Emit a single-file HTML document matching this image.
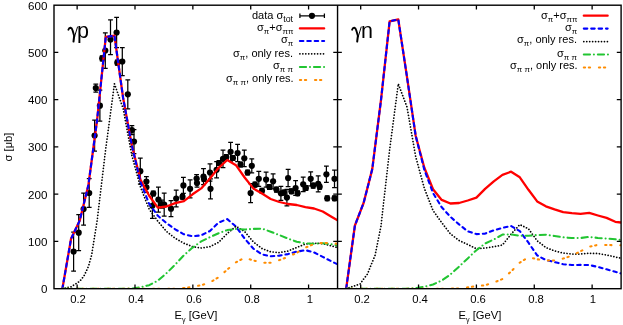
<!DOCTYPE html><html><head><meta charset="utf-8"><title>plot</title><style>
html,body{margin:0;padding:0;background:#fff;}
body{width:623px;height:325px;position:relative;overflow:hidden;font-family:"Liberation Sans",sans-serif;color:#000;}
.t{position:absolute;will-change:transform;white-space:nowrap;font-size:11.6px;line-height:1;}
.r{text-align:right;}
.c{text-align:center;}
.xt{font-size:11.3px;}
.al{font-size:11.2px;}
.lg{font-size:11px;}
sub{font-size:0.8em;vertical-align:baseline;position:relative;top:0.3em;line-height:0;}
sub.p{font-size:0.72em;top:0.36em;}
sub.g{font-size:0.64em;top:0.4em;}
.big{font-size:21.5px;}
</style></head><body>
<svg width="623" height="325" viewBox="0 0 623 325" style="position:absolute;left:0;top:0;will-change:transform">
<rect width="623" height="325" fill="#fff"/>
<defs><clipPath id="cl"><rect x="54.00" y="5.20" width="283.55" height="283.50"/></clipPath><clipPath id="cr"><rect x="337.55" y="5.20" width="283.55" height="283.50"/></clipPath></defs>
<g clip-path="url(#cl)">
<g stroke="#000" stroke-width="1.25" fill="none">
<path d="M73.60 232.00 V271.00 M71.20 232.00 h4.8 M71.20 271.00 h4.8"/>
<path d="M78.70 214.70 V250.70 M76.30 214.70 h4.8 M76.30 250.70 h4.8"/>
<path d="M83.60 193.00 V225.00 M81.20 193.00 h4.8 M81.20 225.00 h4.8"/>
<path d="M89.20 178.70 V207.30 M86.80 178.70 h4.8 M86.80 207.30 h4.8"/>
<path d="M94.60 120.00 V151.20 M92.20 120.00 h4.8 M92.20 151.20 h4.8"/>
<path d="M95.80 84.00 V92.00 M93.40 84.00 h4.8 M93.40 92.00 h4.8"/>
<path d="M99.90 90.20 V121.20 M97.50 90.20 h4.8 M97.50 121.20 h4.8"/>
<path d="M102.20 55.90 V60.90 M99.80 55.90 h4.8 M99.80 60.90 h4.8"/>
<path d="M105.30 32.80 V68.40 M102.90 32.80 h4.8 M102.90 68.40 h4.8"/>
<path d="M110.50 19.80 V54.50 M108.10 19.80 h4.8 M108.10 54.50 h4.8"/>
<path d="M116.60 17.30 V47.70 M114.20 17.30 h4.8 M114.20 47.70 h4.8"/>
<path d="M117.30 60.20 V65.20 M114.90 60.20 h4.8 M114.90 65.20 h4.8"/>
<path d="M122.30 47.50 V75.50 M119.90 47.50 h4.8 M119.90 75.50 h4.8"/>
<path d="M127.80 79.80 V108.80 M125.40 79.80 h4.8 M125.40 108.80 h4.8"/>
<path d="M131.90 125.60 V134.60 M129.50 125.60 h4.8 M129.50 134.60 h4.8"/>
<path d="M134.00 129.50 V153.50 M131.60 129.50 h4.8 M131.60 153.50 h4.8"/>
<path d="M140.30 158.20 V184.20 M137.90 158.20 h4.8 M137.90 184.20 h4.8"/>
<path d="M146.40 176.50 V186.50 M144.00 176.50 h4.8 M144.00 186.50 h4.8"/>
<path d="M146.40 182.30 V192.30 M144.00 182.30 h4.8 M144.00 192.30 h4.8"/>
<path d="M153.30 191.10 V195.90 M150.90 191.10 h4.8 M150.90 195.90 h4.8"/>
<path d="M152.40 193.80 V218.30 M150.00 193.80 h4.8 M150.00 218.30 h4.8"/>
<path d="M158.40 187.00 V212.00 M156.00 187.00 h4.8 M156.00 212.00 h4.8"/>
<path d="M161.60 200.00 V208.00 M159.20 200.00 h4.8 M159.20 208.00 h4.8"/>
<path d="M164.20 193.00 V216.00 M161.80 193.00 h4.8 M161.80 216.00 h4.8"/>
<path d="M171.00 200.70 V216.70 M168.60 200.70 h4.8 M168.60 216.70 h4.8"/>
<path d="M176.20 190.20 V206.80 M173.80 190.20 h4.8 M173.80 206.80 h4.8"/>
<path d="M182.50 194.40 V199.20 M180.10 194.40 h4.8 M180.10 199.20 h4.8"/>
<path d="M183.40 177.40 V193.40 M181.00 177.40 h4.8 M181.00 193.40 h4.8"/>
<path d="M190.10 179.80 V197.80 M187.70 179.80 h4.8 M187.70 197.80 h4.8"/>
<path d="M196.60 174.50 V182.50 M194.20 174.50 h4.8 M194.20 182.50 h4.8"/>
<path d="M197.00 179.00 V187.00 M194.60 179.00 h4.8 M194.60 187.00 h4.8"/>
<path d="M203.50 168.50 V184.50 M201.10 168.50 h4.8 M201.10 184.50 h4.8"/>
<path d="M204.00 176.60 V181.40 M201.60 176.60 h4.8 M201.60 181.40 h4.8"/>
<path d="M210.00 163.80 V181.20 M207.60 163.80 h4.8 M207.60 181.20 h4.8"/>
<path d="M210.50 178.80 V198.80 M208.10 178.80 h4.8 M208.10 198.80 h4.8"/>
<path d="M216.60 161.70 V177.90 M214.20 161.70 h4.8 M214.20 177.90 h4.8"/>
<path d="M219.00 160.60 V165.40 M216.60 160.60 h4.8 M216.60 165.40 h4.8"/>
<path d="M223.00 150.00 V167.60 M220.60 150.00 h4.8 M220.60 167.60 h4.8"/>
<path d="M226.30 154.60 V159.40 M223.90 154.60 h4.8 M223.90 159.40 h4.8"/>
<path d="M230.60 142.40 V161.20 M228.20 142.40 h4.8 M228.20 161.20 h4.8"/>
<path d="M233.00 155.60 V160.40 M230.60 155.60 h4.8 M230.60 160.40 h4.8"/>
<path d="M237.60 144.30 V161.70 M235.20 144.30 h4.8 M235.20 161.70 h4.8"/>
<path d="M240.60 162.10 V166.90 M238.20 162.10 h4.8 M238.20 166.90 h4.8"/>
<path d="M244.30 150.10 V166.50 M241.90 150.10 h4.8 M241.90 166.50 h4.8"/>
<path d="M247.60 170.10 V174.90 M245.20 170.10 h4.8 M245.20 174.90 h4.8"/>
<path d="M251.80 158.80 V172.80 M249.40 158.80 h4.8 M249.40 172.80 h4.8"/>
<path d="M250.60 183.70 V202.50 M248.20 183.70 h4.8 M248.20 202.50 h4.8"/>
<path d="M255.00 182.20 V187.00 M252.60 182.20 h4.8 M252.60 187.00 h4.8"/>
<path d="M258.80 171.30 V186.30 M256.40 171.30 h4.8 M256.40 186.30 h4.8"/>
<path d="M262.00 188.40 V193.20 M259.60 188.40 h4.8 M259.60 193.20 h4.8"/>
<path d="M266.10 172.00 V187.20 M263.70 172.00 h4.8 M263.70 187.20 h4.8"/>
<path d="M269.40 184.60 V189.40 M267.00 184.60 h4.8 M267.00 189.40 h4.8"/>
<path d="M273.10 173.80 V188.80 M270.70 173.80 h4.8 M270.70 188.80 h4.8"/>
<path d="M276.40 187.20 V192.00 M274.00 187.20 h4.8 M274.00 192.00 h4.8"/>
<path d="M280.90 186.30 V200.30 M278.50 186.30 h4.8 M278.50 200.30 h4.8"/>
<path d="M283.90 190.20 V195.00 M281.50 190.20 h4.8 M281.50 195.00 h4.8"/>
<path d="M286.90 189.40 V205.80 M284.50 189.40 h4.8 M284.50 205.80 h4.8"/>
<path d="M288.10 169.40 V186.60 M285.70 169.40 h4.8 M285.70 186.60 h4.8"/>
<path d="M291.40 188.90 V193.70 M289.00 188.90 h4.8 M289.00 193.70 h4.8"/>
<path d="M295.60 180.60 V195.40 M293.20 180.60 h4.8 M293.20 195.40 h4.8"/>
<path d="M297.60 190.90 V195.70 M295.20 190.90 h4.8 M295.20 195.70 h4.8"/>
<path d="M303.20 177.00 V191.60 M300.80 177.00 h4.8 M300.80 191.60 h4.8"/>
<path d="M305.90 185.60 V190.40 M303.50 185.60 h4.8 M303.50 190.40 h4.8"/>
<path d="M310.70 171.80 V185.80 M308.30 171.80 h4.8 M308.30 185.80 h4.8"/>
<path d="M313.20 183.20 V188.00 M310.80 183.20 h4.8 M310.80 188.00 h4.8"/>
<path d="M318.20 175.80 V191.80 M315.80 175.80 h4.8 M315.80 191.80 h4.8"/>
<path d="M319.70 184.40 V189.20 M317.30 184.40 h4.8 M317.30 189.20 h4.8"/>
<path d="M326.40 166.20 V182.40 M324.00 166.20 h4.8 M324.00 182.40 h4.8"/>
<path d="M327.20 195.90 V200.70 M324.80 195.90 h4.8 M324.80 200.70 h4.8"/>
<path d="M334.50 170.00 V187.60 M332.10 170.00 h4.8 M332.10 187.60 h4.8"/>
<path d="M334.50 195.90 V200.70 M332.10 195.90 h4.8 M332.10 200.70 h4.8"/>
</g>
<g fill="#000">
<circle cx="73.60" cy="251.50" r="3.1"/>
<circle cx="78.70" cy="232.70" r="3.1"/>
<circle cx="83.60" cy="209.00" r="3.1"/>
<circle cx="89.20" cy="193.00" r="3.1"/>
<circle cx="94.60" cy="135.60" r="3.1"/>
<circle cx="95.80" cy="88.00" r="3.1"/>
<circle cx="99.90" cy="105.70" r="3.1"/>
<circle cx="102.20" cy="58.40" r="3.1"/>
<circle cx="105.30" cy="50.60" r="3.1"/>
<circle cx="110.50" cy="39.50" r="3.1"/>
<circle cx="116.60" cy="32.50" r="3.1"/>
<circle cx="117.30" cy="62.70" r="3.1"/>
<circle cx="122.30" cy="61.50" r="3.1"/>
<circle cx="127.80" cy="94.30" r="3.1"/>
<circle cx="131.90" cy="130.10" r="3.1"/>
<circle cx="134.00" cy="141.50" r="3.1"/>
<circle cx="140.30" cy="171.20" r="3.1"/>
<circle cx="146.40" cy="181.50" r="3.1"/>
<circle cx="146.40" cy="187.30" r="3.1"/>
<circle cx="153.30" cy="193.50" r="3.1"/>
<circle cx="152.40" cy="205.80" r="3.1"/>
<circle cx="158.40" cy="199.50" r="3.1"/>
<circle cx="161.60" cy="204.00" r="3.1"/>
<circle cx="164.20" cy="204.50" r="3.1"/>
<circle cx="171.00" cy="208.70" r="3.1"/>
<circle cx="176.20" cy="198.50" r="3.1"/>
<circle cx="182.50" cy="196.80" r="3.1"/>
<circle cx="183.40" cy="185.40" r="3.1"/>
<circle cx="190.10" cy="188.80" r="3.1"/>
<circle cx="196.60" cy="178.50" r="3.1"/>
<circle cx="197.00" cy="183.00" r="3.1"/>
<circle cx="203.50" cy="176.50" r="3.1"/>
<circle cx="204.00" cy="179.00" r="3.1"/>
<circle cx="210.00" cy="172.50" r="3.1"/>
<circle cx="210.50" cy="188.80" r="3.1"/>
<circle cx="216.60" cy="169.80" r="3.1"/>
<circle cx="219.00" cy="163.00" r="3.1"/>
<circle cx="223.00" cy="158.80" r="3.1"/>
<circle cx="226.30" cy="157.00" r="3.1"/>
<circle cx="230.60" cy="151.80" r="3.1"/>
<circle cx="233.00" cy="158.00" r="3.1"/>
<circle cx="237.60" cy="153.00" r="3.1"/>
<circle cx="240.60" cy="164.50" r="3.1"/>
<circle cx="244.30" cy="158.30" r="3.1"/>
<circle cx="247.60" cy="172.50" r="3.1"/>
<circle cx="251.80" cy="165.80" r="3.1"/>
<circle cx="250.60" cy="193.10" r="3.1"/>
<circle cx="255.00" cy="184.60" r="3.1"/>
<circle cx="258.80" cy="178.80" r="3.1"/>
<circle cx="262.00" cy="190.80" r="3.1"/>
<circle cx="266.10" cy="179.60" r="3.1"/>
<circle cx="269.40" cy="187.00" r="3.1"/>
<circle cx="273.10" cy="181.30" r="3.1"/>
<circle cx="276.40" cy="189.60" r="3.1"/>
<circle cx="280.90" cy="193.30" r="3.1"/>
<circle cx="283.90" cy="192.60" r="3.1"/>
<circle cx="286.90" cy="197.60" r="3.1"/>
<circle cx="288.10" cy="178.00" r="3.1"/>
<circle cx="291.40" cy="191.30" r="3.1"/>
<circle cx="295.60" cy="188.00" r="3.1"/>
<circle cx="297.60" cy="193.30" r="3.1"/>
<circle cx="303.20" cy="184.30" r="3.1"/>
<circle cx="305.90" cy="188.00" r="3.1"/>
<circle cx="310.70" cy="178.80" r="3.1"/>
<circle cx="313.20" cy="185.60" r="3.1"/>
<circle cx="318.20" cy="183.80" r="3.1"/>
<circle cx="319.70" cy="186.80" r="3.1"/>
<circle cx="326.40" cy="174.30" r="3.1"/>
<circle cx="327.20" cy="198.30" r="3.1"/>
<circle cx="334.50" cy="178.80" r="3.1"/>
<circle cx="334.50" cy="198.30" r="3.1"/>
</g>
<path d="M62.38 288.70 L71.06 238.80 L79.74 220.50 L88.42 185.00 L97.10 120.00 L105.77 37.00 L114.45 35.70 L123.13 98.00 L131.81 145.30 L140.49 179.80 L149.17 195.70 L157.85 207.60 L166.53 206.50 L175.21 203.10 L183.88 201.20 L192.56 194.30 L201.24 188.40 L209.92 178.40 L218.60 167.80 L227.28 160.00 L235.96 165.20 L244.64 177.50 L253.32 188.40 L262.00 193.60 L270.68 199.00 L279.35 202.00 L288.03 204.00 L296.71 205.00 L305.39 207.10 L314.07 208.50 L322.75 211.50 L331.43 216.70 L337.51 220.30" fill="none" stroke="#ff0000" stroke-width="2.3" stroke-linejoin="round" stroke-linecap="round"/>
<path d="M62.38 288.70 L71.06 238.80 L79.74 220.50 L88.42 185.00 L97.10 120.00 L105.77 37.00 L114.45 35.70 L123.13 98.00 L131.81 145.30 L140.49 182.30 L149.17 203.80 L157.85 215.80 L166.53 223.20 L175.21 229.30 L183.88 234.30 L192.56 236.30 L201.24 235.30 L209.92 231.00 L218.60 222.60 L227.28 219.10 L235.96 226.50 L244.64 238.60 L253.32 248.60 L262.00 254.40 L270.68 256.20 L279.35 255.60 L288.03 254.10 L296.71 251.60 L305.39 250.20 L314.07 252.40 L322.75 256.90 L331.43 261.30 L337.51 264.30" fill="none" stroke="#0000ff" stroke-width="2.1" stroke-dasharray="3.5 3.9" stroke-linejoin="round" stroke-linecap="round"/>
<path d="M62.38 288.70 L71.06 286.80 L79.74 281.30 L84.00 275.90 L88.42 266.50 L91.60 255.20 L97.10 221.00 L105.77 148.50 L114.45 83.80 L123.13 108.50 L131.81 155.20 L140.49 187.10 L149.17 209.20 L157.85 221.20 L166.53 231.50 L175.21 238.30 L183.88 243.20 L192.56 246.60 L201.24 248.00 L209.92 246.60 L218.60 242.30 L227.28 233.50 L235.96 226.30 L244.64 231.50 L253.32 241.90 L262.00 248.50 L270.68 251.80 L279.35 252.60 L288.03 251.00 L296.71 247.50 L305.39 244.00 L314.07 243.20 L322.75 243.70 L331.43 245.80 L337.51 247.60" fill="none" stroke="#000" stroke-width="1.75" stroke-dasharray="0.01 2.94" stroke-linejoin="round" stroke-linecap="round"/>
<path d="M62.38 288.70 L71.06 288.70 L79.74 288.70 L88.42 288.70 L97.10 288.70 L105.77 288.70 L114.45 288.70 L123.13 288.70 L131.81 288.60 L140.49 287.30 L149.17 285.20 L157.85 280.60 L166.53 273.20 L175.21 264.60 L183.88 255.30 L192.56 247.60 L201.24 241.40 L209.92 237.20 L218.60 233.20 L227.28 230.10 L235.96 228.90 L244.64 229.50 L253.32 228.90 L262.00 228.60 L270.68 231.70 L279.35 235.10 L288.03 238.60 L296.71 241.70 L305.39 243.50 L314.07 243.80 L322.75 243.20 L331.43 244.30 L337.51 245.50" fill="none" stroke="#22c532" stroke-width="2.05" stroke-dasharray="6.2 3.9 0.01 3.94" stroke-linejoin="round" stroke-linecap="round"/>
<path d="M62.38 288.70 L71.06 288.70 L79.74 288.70 L88.42 288.70 L97.10 288.70 L105.77 288.70 L114.45 288.70 L123.13 288.70 L131.81 288.70 L140.49 288.70 L149.17 288.70 L157.85 288.70 L166.53 288.70 L175.21 288.70 L183.88 288.00 L192.56 286.80 L201.24 285.20 L209.92 282.50 L218.60 277.20 L227.28 269.60 L235.96 262.30 L244.64 257.80 L253.32 260.40 L262.00 262.70 L270.68 262.70 L279.35 260.10 L288.03 256.90 L296.71 252.80 L305.39 247.60 L314.07 244.10 L322.75 242.80 L331.43 243.20 L337.51 243.80" fill="none" stroke="#ff8c00" stroke-width="2.05" stroke-dasharray="1.3 3.7 1.3 8.8" stroke-linejoin="round" stroke-linecap="round"/>
</g>
<g clip-path="url(#cr)">
<path d="M346.23 288.30 L354.91 225.50 L363.59 203.00 L372.27 169.10 L380.95 100.40 L389.62 21.30 L398.30 19.50 L406.98 76.90 L415.66 135.70 L424.34 167.80 L433.02 189.30 L441.70 199.90 L450.38 203.50 L459.06 203.00 L467.74 200.50 L476.41 197.60 L485.09 188.90 L493.77 181.30 L502.45 174.80 L511.13 171.70 L519.81 177.30 L528.49 189.80 L537.17 201.40 L545.85 206.30 L554.53 209.40 L563.20 212.10 L571.88 213.10 L580.56 213.80 L589.24 212.90 L597.92 215.50 L606.60 217.90 L615.28 221.80 L621.06 222.50" fill="none" stroke="#ff0000" stroke-width="2.3" stroke-linejoin="round" stroke-linecap="round"/>
<path d="M346.23 288.30 L354.91 225.50 L363.59 203.00 L372.27 169.10 L380.95 100.40 L389.62 21.30 L398.30 19.50 L406.98 76.90 L415.66 135.70 L424.34 169.80 L433.02 193.00 L441.70 207.30 L450.38 216.80 L459.06 224.40 L467.74 231.30 L476.41 234.10 L485.09 233.60 L493.77 230.30 L502.45 227.90 L511.13 226.00 L519.81 231.20 L528.49 242.70 L537.17 255.40 L545.85 260.00 L554.53 262.10 L563.20 264.20 L571.88 265.00 L580.56 264.90 L589.24 265.10 L597.92 266.90 L606.60 269.30 L615.28 271.80 L621.06 273.50" fill="none" stroke="#0000ff" stroke-width="2.1" stroke-dasharray="3.5 3.9" stroke-linejoin="round" stroke-linecap="round"/>
<path d="M346.23 288.70 L354.91 285.70 L360.00 284.10 L363.59 279.10 L367.50 274.00 L372.27 262.00 L375.10 255.20 L380.95 226.20 L389.62 149.80 L398.30 83.80 L406.98 107.00 L415.66 156.50 L424.34 188.30 L433.02 210.50 L441.70 222.60 L450.38 233.80 L459.06 240.50 L467.74 244.50 L476.41 248.70 L485.09 248.00 L493.77 246.80 L502.45 245.00 L511.13 234.10 L519.81 224.60 L528.49 228.80 L537.17 240.80 L545.85 247.50 L554.53 250.90 L563.20 253.10 L571.88 254.00 L580.56 254.00 L589.24 253.30 L597.92 253.50 L606.60 255.00 L615.28 257.00 L621.06 258.30" fill="none" stroke="#000" stroke-width="1.75" stroke-dasharray="0.01 2.94" stroke-linejoin="round" stroke-linecap="round"/>
<path d="M346.23 288.70 L354.91 288.70 L363.59 288.70 L372.27 288.70 L380.95 288.70 L389.62 288.70 L398.30 288.70 L406.98 288.70 L415.66 288.10 L424.34 286.80 L433.02 284.50 L441.70 280.50 L450.38 274.50 L459.06 266.60 L467.74 258.40 L476.41 250.20 L485.09 243.50 L493.77 239.60 L502.45 234.60 L511.13 234.50 L519.81 235.70 L528.49 235.70 L537.17 235.00 L545.85 234.70 L554.53 236.00 L563.20 237.30 L571.88 238.00 L580.56 238.00 L589.24 236.90 L597.92 237.90 L606.60 238.50 L615.28 239.30 L621.06 240.00" fill="none" stroke="#22c532" stroke-width="2.05" stroke-dasharray="6.2 3.9 0.01 3.94" stroke-linejoin="round" stroke-linecap="round"/>
<path d="M346.23 288.70 L354.91 288.70 L363.59 288.70 L372.27 288.70 L380.95 288.70 L389.62 288.70 L398.30 288.70 L406.98 288.70 L415.66 288.70 L424.34 288.70 L433.02 288.70 L441.70 288.70 L450.38 288.70 L459.06 288.40 L467.74 287.30 L476.41 286.20 L485.09 285.20 L493.77 282.60 L502.45 279.00 L511.13 271.50 L519.81 262.60 L528.49 257.10 L537.17 259.30 L545.85 260.50 L554.53 260.60 L563.20 258.60 L571.88 255.60 L580.56 251.30 L589.24 246.80 L597.92 244.80 L606.60 245.00 L615.28 245.20 L621.06 245.30" fill="none" stroke="#ff8c00" stroke-width="2.05" stroke-dasharray="1.3 3.7 1.3 8.8" stroke-linejoin="round" stroke-linecap="round"/>
</g>
<g stroke="#000" stroke-width="1.40" fill="none">
<rect x="54.00" y="5.20" width="567.10" height="283.50"/>
<path d="M337.55 5.20 V288.70"/>
</g>
<g stroke="#000" stroke-width="1.3" fill="none">
<path d="M77.14 288.70 v-4.3 M77.14 5.20 v4.3 M135.00 288.70 v-4.3 M135.00 5.20 v4.3 M192.86 288.70 v-4.3 M192.86 5.20 v4.3 M250.72 288.70 v-4.3 M250.72 5.20 v4.3 M308.58 288.70 v-4.3 M308.58 5.20 v4.3 M54.00 241.45 h4.3 M337.55 241.45 h-4.3 M54.00 194.20 h4.3 M337.55 194.20 h-4.3 M54.00 146.95 h4.3 M337.55 146.95 h-4.3 M54.00 99.70 h4.3 M337.55 99.70 h-4.3 M54.00 52.45 h4.3 M337.55 52.45 h-4.3"/>
<path d="M360.69 288.70 v-4.3 M360.69 5.20 v4.3 M418.55 288.70 v-4.3 M418.55 5.20 v4.3 M476.41 288.70 v-4.3 M476.41 5.20 v4.3 M534.27 288.70 v-4.3 M534.27 5.20 v4.3 M592.13 288.70 v-4.3 M592.13 5.20 v4.3 M337.55 241.45 h4.3 M621.10 241.45 h-4.3 M337.55 194.20 h4.3 M621.10 194.20 h-4.3 M337.55 146.95 h4.3 M621.10 146.95 h-4.3 M337.55 99.70 h4.3 M621.10 99.70 h-4.3 M337.55 52.45 h4.3 M621.10 52.45 h-4.3"/>
</g>
<path d="M299.90 15.80 H324.40 M299.90 13.50 v4.6 M324.40 13.50 v4.6" stroke="#000" stroke-width="1.25" fill="none"/>
<circle cx="311.95" cy="15.80" r="3.1" fill="#000"/>
<path d="M299.90 28.40 H324.15" fill="none" stroke="#ff0000" stroke-width="2.3" stroke-linejoin="round" stroke-linecap="round"/>
<path d="M299.90 41.00 H324.15" fill="none" stroke="#0000ff" stroke-width="2.1" stroke-dasharray="3.5 3.9" stroke-linejoin="round" stroke-linecap="round"/>
<path d="M299.90 53.80 H324.15" fill="none" stroke="#000" stroke-width="1.75" stroke-dasharray="0.01 2.94" stroke-linejoin="round" stroke-linecap="round"/>
<path d="M299.90 67.00 H325.05" fill="none" stroke="#22c532" stroke-width="2.05" stroke-dasharray="6.2 3.9 0.01 3.94" stroke-linejoin="round" stroke-linecap="round"/>
<path d="M299.90 79.90 H324.15" fill="none" stroke="#ff8c00" stroke-width="2.05" stroke-dasharray="1.3 3.7 1.3 8.8" stroke-linejoin="round" stroke-linecap="round"/>
<path d="M583.80 15.70 H607.65" fill="none" stroke="#ff0000" stroke-width="2.3" stroke-linejoin="round" stroke-linecap="round"/>
<path d="M583.80 28.60 H607.65" fill="none" stroke="#0000ff" stroke-width="2.1" stroke-dasharray="3.5 3.9" stroke-linejoin="round" stroke-linecap="round"/>
<path d="M583.80 41.50 H607.65" fill="none" stroke="#000" stroke-width="1.75" stroke-dasharray="0.01 2.94" stroke-linejoin="round" stroke-linecap="round"/>
<path d="M583.80 54.40 H608.55" fill="none" stroke="#22c532" stroke-width="2.05" stroke-dasharray="6.2 3.9 0.01 3.94" stroke-linejoin="round" stroke-linecap="round"/>
<path d="M583.80 67.40 H607.65" fill="none" stroke="#ff8c00" stroke-width="2.05" stroke-dasharray="1.3 3.7 1.3 8.8" stroke-linejoin="round" stroke-linecap="round"/>
<text x="0" y="0" transform="translate(11.8 147) rotate(-90)" text-anchor="middle" font-family="Liberation Sans, sans-serif" font-size="11.2" fill="#000">&#963; [&#956;b]</text>
<g transform="translate(0.00,0)" fill="none" stroke="#000" stroke-linecap="round" stroke-linejoin="round">
<path d="M68.4 29.7 Q69.1 27.5 70.6 27.7 Q71.9 28.0 72.6 30.4 L74.3 36.3" stroke-width="1.9"/>
<path d="M77.5 27.0 L74.5 36.8" stroke-width="1.0"/>
<path d="M74.1 36.6 L73.5 41.6" stroke-width="2.0"/>
</g>
<g transform="translate(283.70,0)" fill="none" stroke="#000" stroke-linecap="round" stroke-linejoin="round">
<path d="M68.4 29.7 Q69.1 27.5 70.6 27.7 Q71.9 28.0 72.6 30.4 L74.3 36.3" stroke-width="1.9"/>
<path d="M77.5 27.0 L74.5 36.8" stroke-width="1.0"/>
<path d="M74.1 36.6 L73.5 41.6" stroke-width="2.0"/>
</g>
</svg>
<div class="t r" style="right:575.8px;top:283px">0</div>
<div class="t r" style="right:575.8px;top:236px">100</div>
<div class="t r" style="right:575.8px;top:189px">200</div>
<div class="t r" style="right:575.8px;top:141px">300</div>
<div class="t r" style="right:575.8px;top:94px">400</div>
<div class="t r" style="right:575.8px;top:47px">500</div>
<div class="t r" style="right:575.8px;top:0px">600</div>
<div class="t c xt" style="left:58.4px;width:40px;top:294px">0.2</div>
<div class="t c xt" style="left:116.3px;width:40px;top:294px">0.4</div>
<div class="t c xt" style="left:174.2px;width:40px;top:294px">0.6</div>
<div class="t c xt" style="left:232.0px;width:40px;top:294px">0.8</div>
<div class="t c xt" style="left:289.9px;width:40px;top:294px">1</div>
<div class="t c al" style="left:156.4px;width:80px;top:310px">E<sub class="g">&gamma;</sub> [GeV]</div>
<div class="t c xt" style="left:342.0px;width:40px;top:294px">0.2</div>
<div class="t c xt" style="left:399.9px;width:40px;top:294px">0.4</div>
<div class="t c xt" style="left:457.7px;width:40px;top:294px">0.6</div>
<div class="t c xt" style="left:515.6px;width:40px;top:294px">0.8</div>
<div class="t c xt" style="left:573.4px;width:40px;top:294px">1</div>
<div class="t c al" style="left:439.9px;width:80px;top:310px">E<sub class="g">&gamma;</sub> [GeV]</div>
<div class="t big" style="left:77.1px;top:21px">p</div>
<div class="t big" style="left:360.9px;top:21px">n</div>
<div class="t r lg" style="right:329.8px;top:10px">data &sigma;<sub>tot</sub></div>
<div class="t r lg" style="right:329.8px;top:22px">&sigma;<sub class="p">&pi;</sub>+&sigma;<sub class="p">&pi;&pi;</sub></div>
<div class="t r lg" style="right:329.8px;top:34px">&sigma;<sub class="p">&pi;</sub></div>
<div class="t r lg" style="right:329.8px;top:48px">&sigma;<sub class="p">&pi;</sub>, only res.</div>
<div class="t r lg" style="right:329.8px;top:60px">&sigma;<sub class="p">&pi; &pi;</sub></div>
<div class="t r lg" style="right:329.8px;top:73px">&sigma;<sub class="p">&pi; &pi;</sub>, only res.</div>
<div class="t r lg" style="right:45.7px;top:10px">&sigma;<sub class="p">&pi;</sub>+&sigma;<sub class="p">&pi;&pi;</sub></div>
<div class="t r lg" style="right:45.7px;top:22px">&sigma;<sub class="p">&pi;</sub></div>
<div class="t r lg" style="right:45.7px;top:34px">&sigma;<sub class="p">&pi;</sub>, only res.</div>
<div class="t r lg" style="right:45.7px;top:48px">&sigma;<sub class="p">&pi; &pi;</sub></div>
<div class="t r lg" style="right:45.7px;top:60px">&sigma;<sub class="p">&pi; &pi;</sub>, only res.</div>
</body></html>
